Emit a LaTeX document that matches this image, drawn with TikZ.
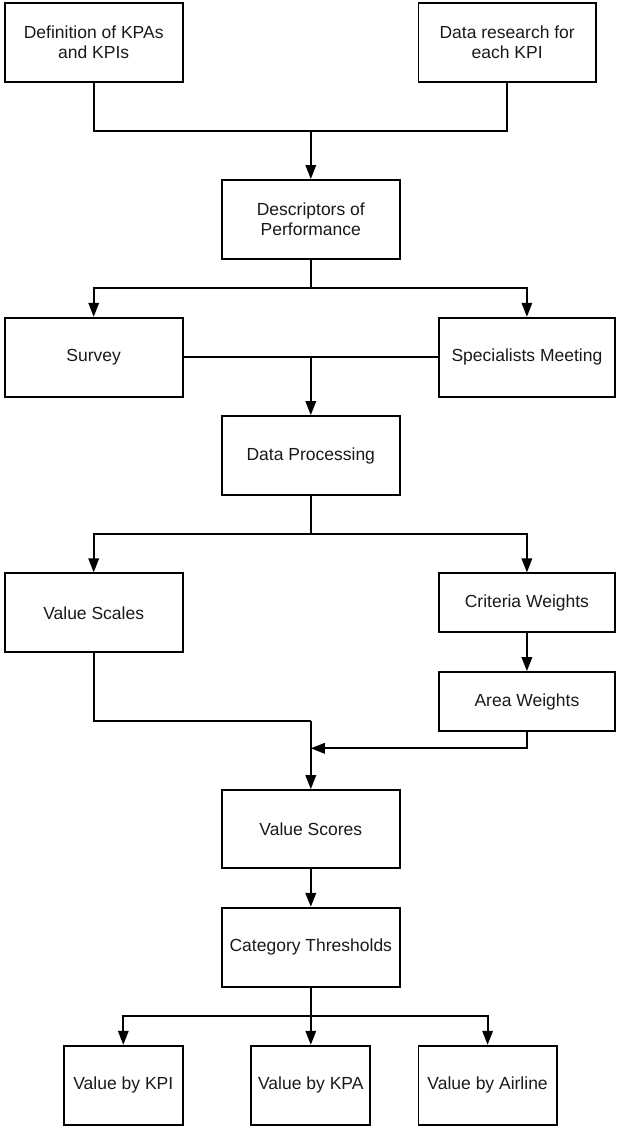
\documentclass[tikz,border=0pt]{standalone}
\usepackage{fontspec}
\setmainfont{Liberation Sans}
\usetikzlibrary{arrows.meta}
\begin{document}
\begin{tikzpicture}[x=1pt,y=-1pt,
  box/.style={draw=black,line width=1.8pt,align=center,inner sep=0pt,
    font=\fontsize{17.5}{20.7}\selectfont,text=black!90},
  conn/.style={draw=black,line width=1.8pt},
  arr/.style={conn,-{Triangle[length=14pt,width=10.5pt]}}]
\useasboundingbox (0,0) rectangle (616,1126);
\node[box,minimum width=178pt,minimum height=79pt] (b1) at (93.7,42.2) {Definition of KPAs\\and KPIs};
\node[box,minimum width=177.5pt,minimum height=79pt] (b2) at (507.2,42.2) {Data research for\\each KPI};
\node[box,minimum width=177.6pt,minimum height=78.7pt] (desc) at (310.8,219.3) {Descriptors of\\Performance};
\node[box,minimum width=178pt,minimum height=79pt] (sur) at (93.7,357.2) {Survey};
\node[box,minimum width=176.5pt,minimum height=79pt] (spec) at (526.9,357.2) {Specialists Meeting};
\node[box,minimum width=177.6pt,minimum height=79pt] (dp) at (310.8,455.5) {Data Processing};
\node[box,minimum width=178pt,minimum height=79pt] (vs) at (93.7,612.8) {Value Scales};
\node[box,minimum width=176.5pt,minimum height=59pt] (cw) at (526.9,602.8) {Criteria Weights};
\node[box,minimum width=176.5pt,minimum height=59pt] (aw) at (526.9,701.5) {Area Weights};
\node[box,minimum width=177.6pt,minimum height=78.3pt] (vsc) at (310.8,829.2) {Value Scores};
\node[box,minimum width=177.6pt,minimum height=79pt] (ct) at (310.8,947.2) {Category Thresholds};
\node[box,minimum width=118.7pt,minimum height=79pt] (v1) at (123.3,1085.2) {Value by KPI};
\node[box,minimum width=119pt,minimum height=79pt] (v2) at (310.8,1085.2) {Value by KPA};
\node[box,minimum width=138.3pt,minimum height=79pt] (v3) at (487.6,1085.2) {Value by Airline};
\coordinate (j1) at (310.8,130.7);
\coordinate (j2) at (310.8,288.3);
\coordinate (j3) at (310.8,357.2);
\coordinate (j4) at (310.8,534.3);
\coordinate (j5) at (310.8,721.3);
\coordinate (j6) at (310.8,748.3);
\coordinate (j7) at (310.8,1016);
\draw[conn] (b1.south) |- (j1) -| (b2.south);
\draw[arr] (j1) -- (desc.north);
\draw[conn] (desc.south) -- (j2);
\draw[arr] (j2) -| (sur.north);
\draw[arr] (j2) -| (spec.north);
\draw[conn] (sur.east) -- (spec.west);
\draw[arr] (j3) -- (dp.north);
\draw[conn] (dp.south) -- (j4);
\draw[arr] (j4) -| (vs.north);
\draw[arr] (j4) -| (cw.north);
\draw[arr] (cw.south) -- (aw.north);
\draw[conn] (vs.south) |- (j5);
\draw[arr] (j5) -- (vsc.north);
\draw[arr] (aw.south) |- (j6);
\draw[arr,line width=2.4pt] (vsc.south) -- (ct.north);
\draw[conn] (ct.south) -- (j7);
\draw[arr] (j7) -| (v1.north);
\draw[arr] (j7) -| (v3.north);
\draw[arr] (j7) -- (v2.north);
\end{tikzpicture}
\end{document}
